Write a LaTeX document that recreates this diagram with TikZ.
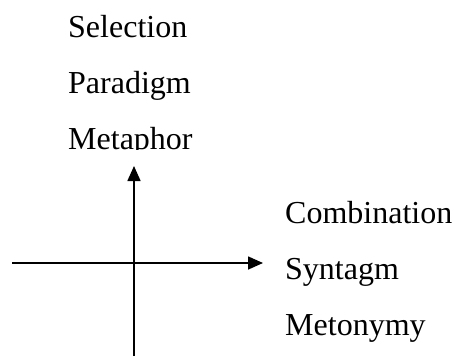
\documentclass[tikz,border=0pt]{standalone}
\usepackage{fontspec}
\setmainfont{Liberation Serif}
\usetikzlibrary{arrows.meta}
\begin{document}
\begin{tikzpicture}[x=1pt,y=-1pt,
  lbl/.style={anchor=base west,inner sep=0pt,font=\fontsize{32}{38}\selectfont},
  axis/.style={line width=1.6pt,-{Triangle[length=15pt,width=13pt]}}]
\useasboundingbox (0,0) rectangle (454,356);
\node[lbl] (sel) at (68,37) {Selection};
\node[lbl] (par) at (68,93) {Paradigm};
\begin{scope}
\clip (0,0) rectangle (454,149.5);
\node[lbl] (met) at (68,149) {Metaphor};
\end{scope}
\node[lbl] (com) at (285,223) {Combination};
\node[lbl] (syn) at (285,279) {Syntagm};
\node[lbl] (mey) at (285,335) {Metonymy};
\coordinate (vb) at (134,356);
\coordinate (vt) at (134,166);
\coordinate (hl) at (12,263);
\coordinate (hr) at (263,263);
\draw[axis] (vb) -- (vt);
\draw[axis] (hl) -- (hr);
\end{tikzpicture}
\end{document}
